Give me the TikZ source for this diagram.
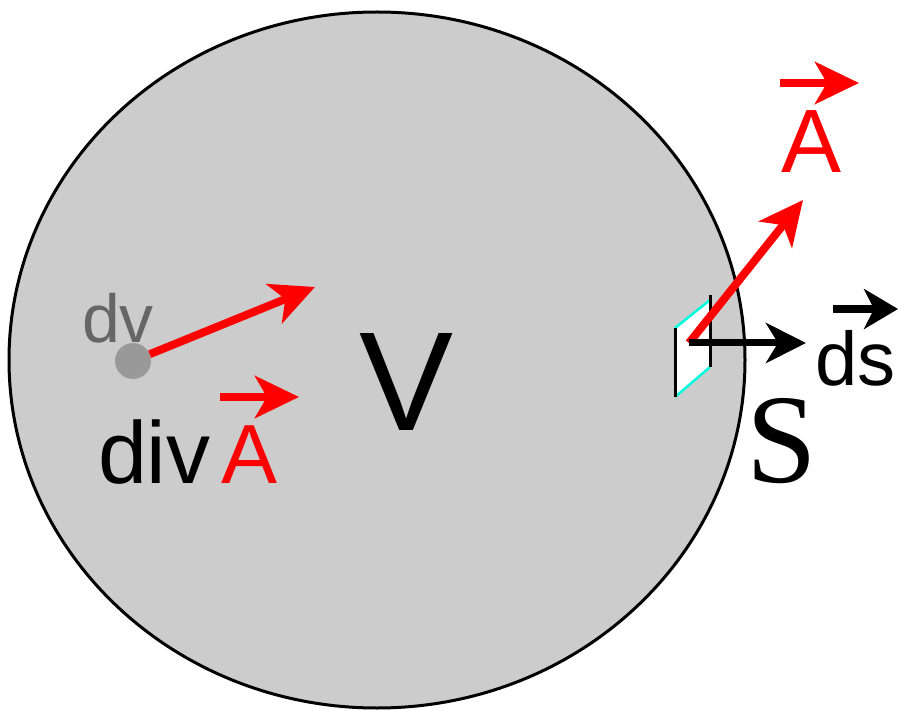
\documentclass[tikz,border=0pt]{standalone}
\usepackage{fontspec}
\setmainfont{Liberation Sans}
\newfontfamily\surffont{Liberation Serif}
\usetikzlibrary{arrows.meta}
\definecolor{VolGray}{RGB}{204,204,204}
\definecolor{DotGray}{RGB}{153,153,153}
\definecolor{LabelGray}{RGB}{102,102,102}
\definecolor{VecRed}{RGB}{255,0,0}
\definecolor{PatchCyan}{RGB}{0,255,221}

\begin{document}
\begin{tikzpicture}[
  x=1pt, y=-1pt,
  every node/.style={inner sep=0pt, outer sep=0pt},
  lbl/.style={anchor=base west},
  volume/.style={draw=black, fill=VolGray, line width=3pt},
  redvec/.style={-{Stealth[length=44pt,width=42pt,inset=12pt]}, line width=8pt, VecRed},
  blackvec/.style={-{Stealth[length=40pt,width=40pt,inset=12pt]}, line width=7pt, black},
  overred/.style={-{Stealth[length=44pt,width=42pt,inset=12pt]}, line width=8pt, VecRed},
  overblack/.style={-{Stealth[length=34pt,width=40pt,inset=10pt]}, line width=8pt, black}
]
\useasboundingbox (0,0) rectangle (900,711);

% volume V
\draw[volume] (377,360) ellipse [x radius=368, y radius=348];

% volume element dv
\node[circle, fill=DotGray, minimum size=36pt] (dvdot) at (133,361) {};
\node[lbl, text=LabelGray, font=\fontsize{68}{68}\selectfont] (dvlabel) at (82,343) {dv};
\coordinate (dvhead) at (315,287);
\draw[redvec] (dvdot) -- (dvhead);

% div A
\node[lbl, font=\fontsize{88}{88}\selectfont] (divlabel) at (98,483) {div};
\node[lbl, text=VecRed, font=\fontsize{84}{84}\selectfont] (Abot) at (221,483) {A};
\coordinate (Abotl) at (220,397);
\coordinate (Abotr) at (299,397);
\draw[overred] (Abotl) -- (Abotr);

% V and S
\node[anchor=base, font=\fontsize{141}{141}\selectfont] (Vlabel) at (407,430) {V};
\node[lbl, font=\fontsize{127}{127}\surffont] (Slabel) at (746,482) {S};

% surface element
\coordinate (p1) at (675,328);
\coordinate (p2) at (710,300);
\coordinate (p3) at (710,367);
\coordinate (p4) at (675,397);
\fill[white] (p1) -- (p2) -- (p3) -- (p4) -- cycle;
\draw[PatchCyan, line width=2.5pt] (p1) -- (p2) (p3) -- (p4);
\draw[black, line width=3pt] (p1) -- (p4) (710,295) -- (p3);

\coordinate (patch) at (689,343);
\coordinate (Asurf) at (803,200);
\coordinate (dshead) at (806,343);
\draw[redvec] (patch) -- (Asurf);
\draw[blackvec] (patch) -- (dshead);

% labels A and ds
\node[lbl, text=VecRed, font=\fontsize{90}{90}\selectfont] (Atop) at (781,173) {A};
\coordinate (Atopl) at (780,83);
\coordinate (Atopr) at (859,83);
\draw[overred] (Atopl) -- (Atopr);

\node[lbl, font=\fontsize{76}{76}\selectfont] (dslabel) at (815,385) {ds};
\coordinate (dsl) at (833,309);
\coordinate (dsr) at (898,309);
\draw[overblack] (dsl) -- (dsr);
\end{tikzpicture}
\end{document}
